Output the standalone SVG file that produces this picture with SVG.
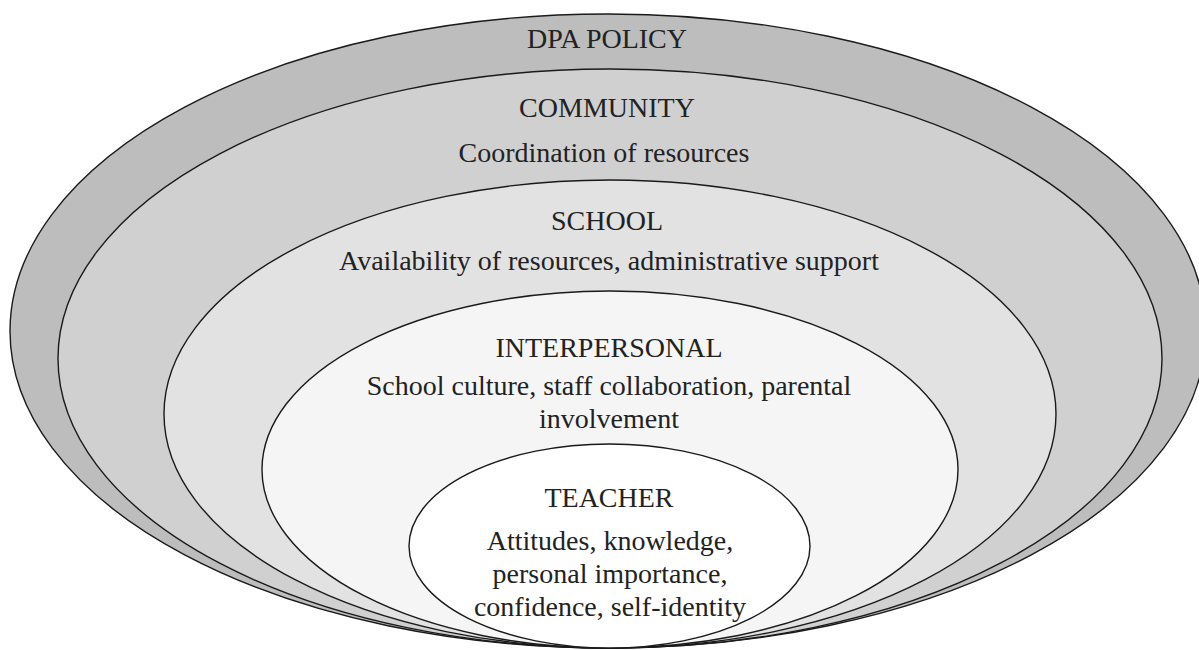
<svg xmlns="http://www.w3.org/2000/svg" width="1199" height="650" viewBox="0 0 1199 650">
  <style>
    .ring { stroke: #1a1a1a; stroke-width: 1.4; }
    .lbl { font-family: "Liberation Serif", "Times New Roman", serif; font-size: 28px; fill: #222222; text-anchor: middle; }
  </style>
  <rect width="1199" height="650" fill="#ffffff"/>
  <g id="dpa-policy">
    <ellipse class="ring" cx="608" cy="331" rx="598" ry="317" fill="#bdbdbd"/>
    <text class="lbl" x="607" y="48">DPA POLICY</text>
  </g>
  <g id="community">
    <ellipse class="ring" cx="610" cy="358.5" rx="552" ry="289.5" fill="#d0d0d0"/>
    <text class="lbl" x="607" y="117">COMMUNITY</text>
    <text class="lbl" x="604" y="162">Coordination of resources</text>
  </g>
  <g id="school">
    <ellipse class="ring" cx="610" cy="414" rx="446" ry="234" fill="#e2e2e2"/>
    <text class="lbl" x="607" y="230">SCHOOL</text>
    <text class="lbl" x="609" y="270">Availability of resources, administrative support</text>
  </g>
  <g id="interpersonal">
    <ellipse class="ring" cx="610" cy="469.5" rx="348" ry="178.5" fill="#f5f5f5"/>
    <text class="lbl" x="609" y="357">INTERPERSONAL</text>
    <text class="lbl" x="609" y="395">School culture, staff collaboration, parental</text>
    <text class="lbl" x="609" y="428">involvement</text>
  </g>
  <g id="teacher">
    <ellipse class="ring" cx="609.5" cy="546" rx="200.5" ry="102" fill="#ffffff"/>
    <text class="lbl" x="609" y="507">TEACHER</text>
    <text class="lbl" x="610" y="550">Attitudes, knowledge,</text>
    <text class="lbl" x="610" y="583">personal importance,</text>
    <text class="lbl" x="610" y="616">confidence, self-identity</text>
  </g>
  <g id="connectors"/>
</svg>
